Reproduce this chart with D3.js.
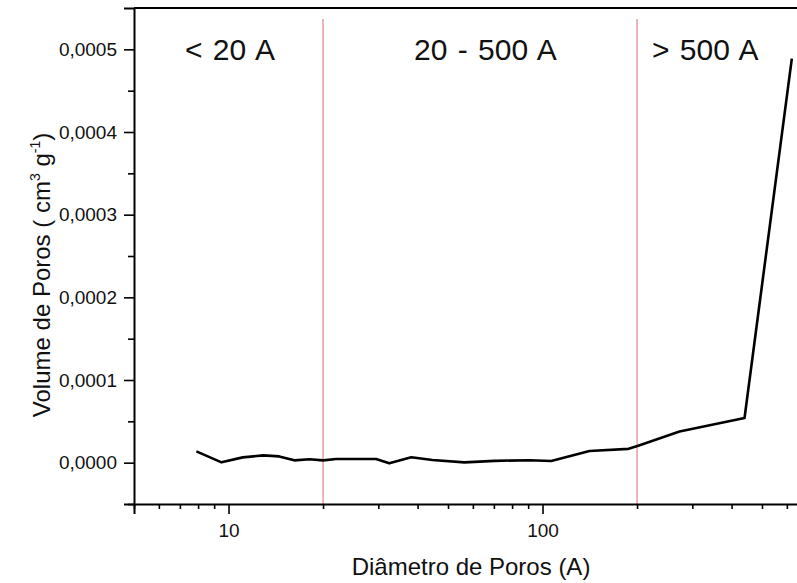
<!DOCTYPE html>
<html>
<head>
<meta charset="utf-8">
<script src="https://cdn.jsdelivr.net/npm/d3@7"></script>
<style>
  body { margin: 0; background: #fff; }
  svg { display: block; font-family: "Liberation Sans", Arial, sans-serif; }
</style>
</head>
<body>
<div id="chart"></div>
<script>
'use strict'

// pore diameter (A) and pore volume (cm3 g-1)
const diameters = [7.9, 9.5, 11.1, 12.9, 14.5, 16.2, 18.1, 20.0, 22.0, 29.5, 32.5, 38.2,
                   44.6, 56.4, 70.3, 90.9, 106.6, 141.1, 187.9, 201.7, 273.1, 439.9, 622.2]
const volumes = [0.0000137, 0.0000004, 0.0000064, 0.0000088, 0.0000076, 0.0000028, 0.0000042,
                 0.0000028, 0.0000045, 0.0000045, -0.0000008, 0.0000066, 0.0000033, 0.0000004,
                 0.0000022, 0.0000030, 0.0000021, 0.0000141, 0.0000167, 0.0000205, 0.0000377,
                 0.0000540, 0.0004888]

const yTicks = [0, 0.0001, 0.0002, 0.0003, 0.0004, 0.0005]
const yMinor = [-0.00005, 0.00005, 0.00015, 0.00025, 0.00035, 0.00045]
const xTicks = [10, 100]
const xMinor = [5, 6, 7, 8, 9, 20, 30, 40, 50, 60, 70, 80, 90, 200, 300, 400, 500, 600, 700, 800, 900]

const regionBounds = [20, 200]
const regionLabels = [
  {text: '< 20 A', x: 185},
  {text: '20 - 500 A', x: 414},
  {text: '> 500 A', x: 652}
]

////////////////////////////////////
//////////// svg setup /////////////
////////////////////////////////////

const svgWidth = 797
const svgHeight = 583

const margin = {left: 134, top: 8, bottom: 79}
const plotBottom = svgHeight - margin.bottom

const svg = d3.select('#chart').append('svg')
    .attr('width', svgWidth)
    .attr('height', svgHeight)

////////////////////////////////////
//////////////scales////////////////
////////////////////////////////////

const xScale = d3.scaleLog()
    .domain([5, 1000])
    .range([margin.left, margin.left + 314 * Math.log10(200)])

const yScale = d3.scaleLinear()
    .domain([-0.00005, 0.00055])
    .range([plotBottom, margin.top])

const locale = d3.formatLocale({decimal: ',', thousands: '.', grouping: [3], currency: ['', '']})
const yFormat = locale.format('.4f')

// region separators
svg.selectAll('.region-line')
    .data(regionBounds)
    .enter()
    .append('line')
    .attr('class', 'region-line')
    .attr('x1', d => xScale(d))
    .attr('x2', d => xScale(d))
    .attr('y1', 19)
    .attr('y2', plotBottom)
    .attr('stroke', '#e06a6a')
    .attr('stroke-width', 1)

// region labels
svg.selectAll('.region-label')
    .data(regionLabels)
    .enter()
    .append('text')
    .attr('class', 'region-label')
    .attr('x', d => d.x)
    .attr('y', 60)
    .attr('font-size', 30)
    .attr('word-spacing', 2)
    .attr('fill', '#111')
    .text(d => d.text)

// data line
const line = d3.line()
    .x((d, i) => xScale(diameters[i]))
    .y(d => yScale(d))

svg.append('path')
    .datum(volumes)
    .attr('d', line)
    .attr('fill', 'none')
    .attr('stroke', '#000')
    .attr('stroke-width', 2.6)
    .attr('stroke-linejoin', 'round')

// y axis
const yAxis = svg.append('g')
    .attr('transform', `translate(${margin.left},0)`)
    .call(d3.axisLeft(yScale).tickValues(yTicks).tickSize(10).tickPadding(7).tickFormat(yFormat))

yAxis.select('.domain').attr('stroke-width', 2)
yAxis.selectAll('.tick line').attr('stroke-width', 1.6)
yAxis.selectAll('.tick text').attr('font-size', 19).attr('fill', '#111')
    .attr('font-family', '"Liberation Sans", Arial, sans-serif')

const yMinorAxis = svg.append('g')
    .attr('transform', `translate(${margin.left},0)`)
    .call(d3.axisLeft(yScale).tickValues(yMinor).tickSize(6).tickFormat(''))
yMinorAxis.select('.domain').remove()
yMinorAxis.selectAll('.tick line').attr('stroke-width', 1.6)

// x axis
const xAxis = svg.append('g')
    .attr('transform', `translate(0,${plotBottom})`)
    .call(d3.axisBottom(xScale).tickValues(xTicks).tickSize(10).tickPadding(10).tickFormat(d3.format('d')))

xAxis.select('.domain').attr('stroke-width', 2)
xAxis.selectAll('.tick line').attr('stroke-width', 1.6)
xAxis.selectAll('.tick text').attr('font-size', 19).attr('fill', '#111')
    .attr('font-family', '"Liberation Sans", Arial, sans-serif')

const xMinorAxis = svg.append('g')
    .attr('transform', `translate(0,${plotBottom})`)
    .call(d3.axisBottom(xScale).tickValues(xMinor).tickSize(5).tickFormat(''))
xMinorAxis.select('.domain').remove()
xMinorAxis.selectAll('.tick line').attr('stroke-width', 1.6)

// top frame line
svg.append('line')
    .attr('x1', xScale.range()[0])
    .attr('x2', xScale.range()[1])
    .attr('y1', yScale.range()[1])
    .attr('y2', yScale.range()[1])
    .attr('stroke', '#000')
    .attr('stroke-width', 2)

// axis titles
svg.append('text')
    .attr('x', 471)
    .attr('y', 575)
    .attr('text-anchor', 'middle')
    .attr('font-size', 24)
    .attr('fill', '#111')
    .text('Diâmetro de Poros (A)')

const yTitle = svg.append('text')
    .attr('transform', 'translate(50,275) rotate(-90)')
    .attr('text-anchor', 'middle')
    .attr('font-size', 24)
    .attr('fill', '#111')

yTitle.append('tspan').text('Volume de Poros ( cm')
yTitle.append('tspan').attr('font-size', 14).attr('dy', -10).text('3')
yTitle.append('tspan').attr('dy', 10).text(' g')
yTitle.append('tspan').attr('font-size', 14).attr('dy', -10).text('-1')
yTitle.append('tspan').attr('dy', 10).text(')')
</script>
</body>
</html>
